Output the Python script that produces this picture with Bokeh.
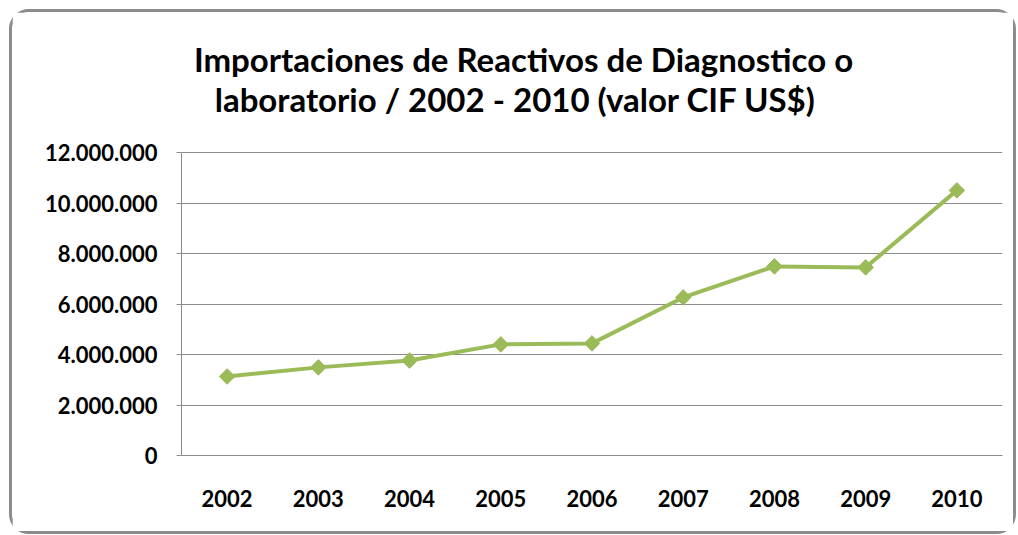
from bokeh.plotting import figure
from bokeh.models import FixedTicker, Label, Range1d, ColumnDataSource
from bokeh.embed import file_html
from bokeh.resources import INLINE
import math

years = ["2002", "2003", "2004", "2005", "2006", "2007", "2008", "2009", "2010"]
values = [3130000, 3490000, 3760000, 4400000, 4440000, 6260000, 7490000, 7450000, 10500000]
tick_values = [0, 2000000, 4000000, 6000000, 8000000, 10000000, 12000000]
tick_labels = ["0", "2.000.000", "4.000.000", "6.000.000", "8.000.000", "10.000.000", "12.000.000"]
title_lines = ["Importaciones de Reactivos de Diagnostico o",
               "laboratorio  /  2002 - 2010 (valor CIF US$)"]

FONT = "Lato"
GREEN = "#9bbb59"
GRAY = "#8c8c8c"

# layout (pixels inside the canvas): the frame reaches the canvas top so the
# title labels can live inside it; the value axis only spans 0..12M
FRAME_H = 443          # canvas height 519 - bottom border 76... frame from top to x axis
AXIS_H = 303           # pixel height of the 0..12M span
y_top = tick_values[-1] * FRAME_H / AXIS_H

p = figure(width=1001, height=519, x_range=years, y_range=Range1d(0, y_top),
           output_backend="svg", toolbar_location=None,
           min_border_left=169, min_border_right=17, min_border_top=0, min_border_bottom=82)
p.styles = {"border": "3px solid #8c8c8c", "border-radius": "20px",
            "box-sizing": "content-box", "margin-left": "9px", "margin-top": "9px"}
p.outline_line_color = None
p.background_fill_color = "white"
p.border_fill_color = "white"

src = ColumnDataSource(dict(x=years, y=values))
p.line("x", "y", source=src, line_color=GREEN, line_width=4)
p.scatter("x", "y", source=src, marker="square", angle=math.pi / 4, size=11,
          fill_color=GREEN, line_color=GREEN)

p.yaxis.bounds = (tick_values[0], tick_values[-1])
p.yaxis.ticker = FixedTicker(ticks=tick_values)
p.yaxis.major_label_overrides = {v: t for v, t in zip(tick_values, tick_labels)}
p.yaxis.minor_tick_line_color = None
p.yaxis.major_tick_in = 0
p.yaxis.major_tick_out = 5
p.yaxis.major_tick_line_color = GRAY
p.yaxis.axis_line_color = GRAY
p.yaxis.major_label_standoff = 19
p.yaxis.major_label_text_font = FONT
p.yaxis.major_label_text_font_style = "bold"
p.yaxis.major_label_text_font_size = "22px"
p.yaxis.major_label_text_color = "black"

p.xaxis.major_tick_line_color = None
p.xaxis.axis_line_color = GRAY
p.xaxis.major_label_standoff = 28
p.xaxis.major_label_text_font = FONT
p.xaxis.major_label_text_font_style = "bold"
p.xaxis.major_label_text_font_size = "22px"
p.xaxis.major_label_text_color = "black"

p.xgrid.grid_line_color = None
p.ygrid.grid_line_color = GRAY
p.ygrid.grid_line_width = 1

for i, t in enumerate(title_lines):
    p.add_layout(Label(x=508, y=43 + i * 40, x_units="canvas", y_units="canvas", text=t,
                       level="overlay",
                       text_font=FONT, text_font_style="bold", text_font_size="33px",
                       text_align="center", text_baseline="middle", text_color="black"))

open("out.html", "w").write(file_html(p, INLINE))
